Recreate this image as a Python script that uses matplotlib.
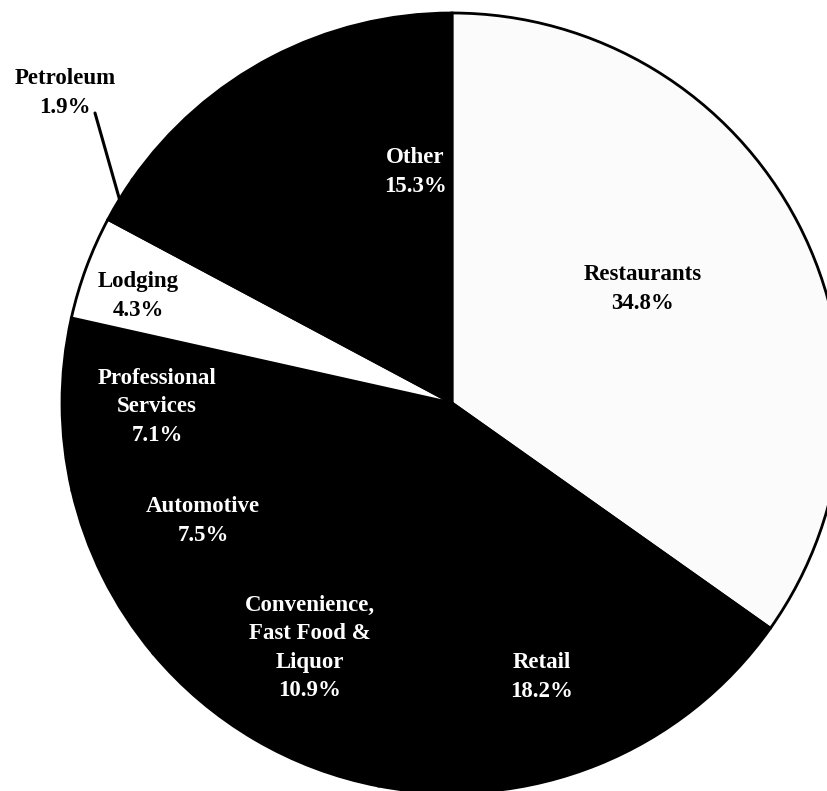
import numpy as np
import matplotlib.pyplot as plt

plt.rcParams['font.family'] = ['Liberation Serif', 'DejaVu Serif']

# shares by category, clockwise from 12 o'clock
categories = ['Restaurants', 'Retail', 'Convenience,\nFast Food &\nLiquor', 'Automotive',
              'Professional\nServices', 'Lodging', 'Petroleum', 'Other']
shares = [34.8, 18.2, 10.9, 7.5, 7.1, 4.3, 1.9, 15.3]

colors = ['#fbfbfb', 'black', 'black', 'black', 'black', 'white', 'black', 'black']
text_colors = ['black', 'white', 'white', 'white', 'white', 'black', 'black', 'white']
# label centres in pixels of the 827x791 picture (pie centre 452,403, radius 390)
label_px = [(643, 289), (542, 677), (310, 648), (203, 521),
            (157, 407), (138, 296), (65, 93), (415, 172)]

cx, cy, r = 452, 403, 390

fig = plt.figure(figsize=(8.27, 7.91), dpi=100)
ax = fig.add_axes([0, 0, 1, 1])
wedges, _ = ax.pie(shares, colors=colors, startangle=90, counterclock=False, radius=1,
                   wedgeprops=dict(edgecolor='black', linewidth=2))
ax.set_xlim(-cx / r, (827 - cx) / r)
ax.set_ylim(-(791 - cy) / r, cy / r)
ax.set_aspect('equal')
ax.axis('off')

for i, (name, val) in enumerate(zip(categories, shares)):
    px, py = label_px[i]
    x, y = (px - cx) / r, (cy - py) / r
    ax.text(x, y, f'{name}\n{val}%', ha='center', va='center', fontsize=16.5,
            color=text_colors[i], fontweight='bold', linespacing=1.45)

# leader line for the thin Petroleum slice
w = wedges[6]
mid = np.deg2rad((w.theta1 + w.theta2) / 2)
ax.annotate('', xy=(np.cos(mid), np.sin(mid)), xytext=((95 - cx) / r, (cy - 113) / r),
            arrowprops=dict(arrowstyle='-', color='black', lw=2.2, shrinkA=0, shrinkB=0))

fig.savefig('out.png', dpi=100)
